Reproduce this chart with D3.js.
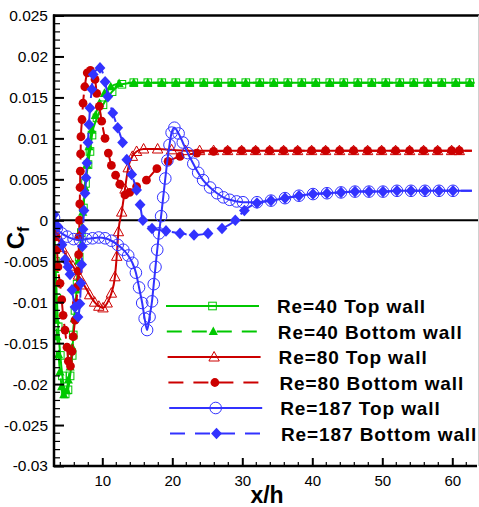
<!DOCTYPE html>
<html><head><meta charset="utf-8">
<script src="https://cdn.jsdelivr.net/npm/d3@7"></script>
<style>body{margin:0;background:#fff}svg{display:block}</style>
</head><body><svg id="c" width="479" height="507"></svg>
<script>
const xTickValues=[10,20,30,40,50,60];
const yTickValues=[0.025,0.02,0.015,0.01,0.005,0,-0.005,-0.01,-0.015,-0.02,-0.025,-0.03];
const yTickLabels=["0.025","0.02","0.015","0.01","0.005","0","-0.005","-0.01","-0.015","-0.02","-0.025","-0.03"];
const legendLabels=["Re=40 Top wall","Re=40 Bottom wall","Re=80 Top wall","Re=80 Bottom wall","Re=187 Top wall","Re=187 Bottom wall"];

const re40Top=[[3.1,-0.0005],[3.3,-0.005],[3.5,-0.0095],[3.7,-0.013],[4.0,-0.0165],[4.3,-0.019],[4.7,-0.0212],[5.1,-0.0207],[5.4,-0.019],[5.7,-0.0165],[5.85,-0.014],[6.1,-0.011],[6.4,-0.0078],[6.7,-0.0045],[7.0,-0.0015],[7.3,0.0015],[7.6,0.0045],[7.96,0.0068],[8.24,0.0084],[8.53,0.0104],[9.24,0.0125],[10.1,0.0141],[11.4,0.0157],[12.8,0.0166],[14.5,0.0168],[16.5,0.0168],[18.5,0.0168],[20.5,0.0168],[22.5,0.0168],[24.5,0.0168],[26.5,0.0168],[28.5,0.0168],[30.5,0.0168],[32.5,0.0168],[34.5,0.0168],[36.5,0.0168],[38.5,0.0168],[40.5,0.0168],[42.5,0.0168],[44.5,0.0168],[46.5,0.0168],[48.5,0.0168],[50.5,0.0168],[52.5,0.0168],[54.5,0.0168],[56.5,0.0168],[58.5,0.0168],[60.5,0.0168],[62.5,0.0168],[63.2,0.0168]];
const re40Bottom=[[3.1,-0.001],[3.2,-0.006],[3.3,-0.0095],[3.4,-0.0122],[3.55,-0.0142],[3.75,-0.0164],[3.95,-0.0185],[4.2,-0.0203],[4.5,-0.0213],[4.9,-0.0208],[5.15,-0.0195],[5.4,-0.0179],[5.7,-0.0155],[6.0,-0.012],[6.3,-0.0085],[6.6,-0.005],[6.9,-0.002],[7.2,0.001],[7.5,0.004],[7.8,0.0068],[8.1,0.009],[8.5,0.011],[9.0,0.0128],[9.6,0.0143],[10.3,0.0155],[11.2,0.0163],[12.4,0.0167],[14.5,0.0168],[16.5,0.0168],[18.5,0.0168],[20.5,0.0168],[22.5,0.0168],[24.5,0.0168],[26.5,0.0168],[28.5,0.0168],[30.5,0.0168],[32.5,0.0168],[34.5,0.0168],[36.5,0.0168],[38.5,0.0168],[40.5,0.0168],[42.5,0.0168],[44.5,0.0168],[46.5,0.0168],[48.5,0.0168],[50.5,0.0168],[52.5,0.0168],[54.5,0.0168],[56.5,0.0168],[58.5,0.0168],[60.5,0.0168],[62.5,0.0168],[63.2,0.0168]];
const re80Top=[[3.1,-0.0005],[3.6,-0.002],[4.2,-0.0033],[5.0,-0.0045],[5.8,-0.0056],[6.6,-0.0067],[7.4,-0.0079],[8.2,-0.0091],[8.9,-0.01],[9.5,-0.0105],[10.1,-0.0107],[10.7,-0.0101],[11.3,-0.0089],[11.8,-0.0069],[12.06,-0.0044],[12.3,-0.0014],[12.77,0.001],[13.24,0.0038],[13.7,0.0064],[14.3,0.0078],[14.9,0.0084],[15.9,0.0087],[17.9,0.0087],[19.9,0.0086],[21.9,0.0085],[23.9,0.0085],[25.9,0.0085],[27.9,0.0085],[29.9,0.0085],[31.9,0.0085],[33.9,0.0085],[35.9,0.0085],[37.9,0.0085],[39.9,0.0085],[41.9,0.0085],[43.9,0.0085],[45.9,0.0085],[47.9,0.0085],[49.9,0.0085],[51.9,0.0085],[53.9,0.0085],[55.9,0.0085],[57.9,0.0085],[59.9,0.0085],[61.0,0.0085],[62.8,0.0085]];
const re80Bottom=[[3.1,-0.0005],[3.35,-0.002],[3.53,-0.0036],[3.67,-0.0057],[3.96,-0.0077],[4.2,-0.0097],[4.4,-0.0116],[4.67,-0.0134],[4.96,-0.0155],[5.15,-0.0172],[5.45,-0.0178],[5.67,-0.016],[5.85,-0.0142],[6.1,-0.0122],[6.3,-0.0101],[6.45,-0.0081],[6.55,-0.0062],[6.62,-0.0042],[6.68,-0.002],[6.74,0.0],[6.78,0.002],[6.82,0.004],[6.86,0.006],[6.9,0.0081],[6.95,0.0102],[7.1,0.0123],[7.25,0.0143],[7.5,0.0163],[7.85,0.018],[8.3,0.0183],[8.96,0.0172],[9.2,0.0155],[9.57,0.0139],[9.91,0.0121],[10.39,0.01],[10.86,0.0082],[11.3,0.0067],[11.9,0.0055],[12.5,0.0044],[13.24,0.0031],[13.9,0.0034],[14.9,0.0041],[16.3,0.0049],[17.8,0.0063],[19.4,0.0072],[21.1,0.0078],[23.5,0.0082],[25.9,0.0084],[27.9,0.0085],[29.9,0.0085],[31.9,0.0085],[33.9,0.0085],[35.9,0.0085],[37.9,0.0085],[39.9,0.0085],[41.9,0.0085],[43.9,0.0085],[45.9,0.0085],[47.9,0.0085],[49.9,0.0085],[51.9,0.0085],[53.9,0.0085],[55.9,0.0085],[57.9,0.0085],[59.9,0.0085],[61.0,0.0085],[62.8,0.0085]];
const re187Top=[[3.1,0.0003],[3.5,-0.001],[4.2,-0.0016],[5.0,-0.002],[5.9,-0.0023],[6.8,-0.0024],[7.7,-0.0023],[8.6,-0.0022],[9.5,-0.0021],[10.4,-0.0022],[11.3,-0.0025],[12.2,-0.003],[13.0,-0.0036],[13.7,-0.0043],[14.3,-0.0052],[14.8,-0.0064],[15.25,-0.0082],[15.7,-0.0101],[16.05,-0.012],[16.4,-0.0134],[16.75,-0.0118],[17.1,-0.0099],[17.35,-0.0078],[17.6,-0.0057],[17.85,-0.0036],[18.1,-0.0016],[18.4,0.0005],[18.7,0.0028],[19.0,0.0051],[19.3,0.0073],[19.6,0.0092],[19.9,0.0107],[20.3,0.0113],[20.9,0.0106],[21.5,0.0095],[22.2,0.0082],[23.0,0.0069],[23.7,0.0058],[24.4,0.0049],[25.4,0.004],[26.4,0.0033],[27.3,0.0028],[28.2,0.0025],[29.2,0.0023],[30.1,0.0022],[32.1,0.0022],[34.1,0.0024],[36.1,0.0027],[38.1,0.003],[40.1,0.0032],[42.1,0.0033],[44.1,0.0034],[46.1,0.0035],[48.1,0.0035],[50.1,0.0035],[52.1,0.0036],[54.1,0.0036],[56.1,0.0036],[58.1,0.0036],[60.1,0.0036],[62.8,0.0036]];
const re187Bottom=[[3.1,0.0007],[3.65,-0.0008],[4.24,-0.003],[4.67,-0.0048],[5.1,-0.0057],[5.39,-0.0066],[5.67,-0.0085],[6.1,-0.0106],[6.53,-0.0118],[6.8,-0.0102],[6.95,-0.0077],[7.05,-0.0054],[7.15,-0.0032],[7.25,-0.0011],[7.38,0.0012],[7.53,0.0033],[7.67,0.0052],[7.81,0.007],[7.96,0.0095],[8.1,0.0117],[8.24,0.0137],[8.5,0.016],[8.7,0.0178],[9.67,0.0186],[10.4,0.0169],[10.8,0.0151],[11.5,0.0131],[12.2,0.0113],[12.9,0.0095],[13.5,0.0074],[14.2,0.0056],[14.9,0.0037],[15.4,0.0019],[15.8,0.0],[17.1,-0.001],[19.1,-0.0013],[21.1,-0.0016],[23.1,-0.0018],[25.1,-0.0016],[27.1,-0.001],[29.0,0.0],[30.3,0.0012],[32.1,0.0021],[34.1,0.0024],[36.1,0.0027],[38.1,0.003],[40.1,0.0032],[42.1,0.0033],[44.1,0.0034],[46.1,0.0035],[48.1,0.0035],[50.1,0.0035],[52.1,0.0036],[54.1,0.0036],[56.1,0.0036],[58.1,0.0036],[60.1,0.0036],[62.8,0.0036]];

const GREEN="#00c800",RED="#cc0000",BLUE="#3232ff";
const series=[
 {name:legendLabels[0],data:re40Top,color:GREEN,dash:null,marker:"square"},
 {name:legendLabels[1],data:re40Bottom,color:GREEN,dash:"15,10",marker:"triFill"},
 {name:legendLabels[2],data:re80Top,color:RED,dash:null,marker:"triOpen"},
 {name:legendLabels[3],data:re80Bottom,color:RED,dash:"15,10",marker:"circFill"},
 {name:legendLabels[4],data:re187Top,color:BLUE,dash:null,marker:"circOpen"},
 {name:legendLabels[5],data:re187Bottom,color:BLUE,dash:"15,10",marker:"diamond"}
];

const svg=d3.select("#c");
const L=54,R=477,T=15.5,B=466;
const x=d3.scaleLinear().domain([3.1,63.53]).range([L,R]);
const y=d3.scaleLinear().domain([-0.03,0.025]).range([B,T]);
const FONT="'Liberation Sans', Arial, Helvetica, sans-serif";

svg.append("defs").append("clipPath").attr("id","clip").append("rect")
  .attr("x",L).attr("y",T).attr("width",R-L).attr("height",B-T);

svg.append("line").attr("x1",L).attr("x2",R+1).attr("y1",y(0)).attr("y2",y(0))
  .attr("stroke","#000").attr("stroke-width",2);

function drawMarker(g,type,color,px,py){
  if(type==="square"){
    g.append("rect").attr("x",px-3.8).attr("y",py-3.8).attr("width",7.6).attr("height",7.6)
      .attr("fill","none").attr("stroke",color).attr("stroke-width",1);
  } else if(type==="triFill"){
    g.append("path").attr("d",`M${px},${py-5}L${px+4.6},${py+3.6}L${px-4.6},${py+3.6}Z`).attr("fill",color);
  } else if(type==="triOpen"){
    g.append("path").attr("d",`M${px},${py-5.5}L${px+5.2},${py+4}L${px-5.2},${py+4}Z`)
      .attr("fill","none").attr("stroke",color).attr("stroke-width",1);
  } else if(type==="circFill"){
    g.append("circle").attr("cx",px).attr("cy",py).attr("r",4.4).attr("fill",color);
  } else if(type==="circOpen"){
    g.append("circle").attr("cx",px).attr("cy",py).attr("r",5.8)
      .attr("fill","none").attr("stroke",color).attr("stroke-width",1);
  } else if(type==="diamond"){
    g.append("path").attr("d",`M${px},${py-5.8}L${px+5.4},${py}L${px},${py+5.8}L${px-5.4},${py}Z`).attr("fill",color);
  }
}

const line=d3.line().x(d=>x(d[0])).y(d=>y(d[1])).curve(d3.curveMonotoneX);
const plot=svg.append("g").attr("clip-path","url(#clip)");
series.forEach(s=>{
  const g=plot.append("g");
  g.append("path").attr("d",line(s.data)).attr("fill","none").attr("stroke",s.color)
    .attr("stroke-width",2).attr("stroke-dasharray",s.dash);
  s.data.slice(0,-1).forEach(d=>drawMarker(g,s.marker,s.color,x(d[0]),y(d[1])));
});

const ax=svg.append("g");
ax.append("line").attr("x1",L-1).attr("x2",479).attr("y1",T).attr("y2",T).attr("stroke","#000").attr("stroke-width",2.5);
ax.append("line").attr("x1",478.5).attr("x2",478.5).attr("y1",T).attr("y2",B).attr("stroke","#d0d0d0").attr("stroke-width",1);
ax.append("line").attr("x1",L).attr("x2",L).attr("y1",T-1).attr("y2",B+1).attr("stroke","#000").attr("stroke-width",2.5);
ax.append("line").attr("x1",L-1).attr("x2",R).attr("y1",B).attr("y2",B).attr("stroke","#000").attr("stroke-width",2.5);

const yAxis=d3.axisLeft(y).tickValues(yTickValues).tickSize(-10).tickPadding(6)
  .tickFormat((d,i)=>yTickLabels[i]);
const gy=svg.append("g").attr("transform",`translate(${L},0)`).call(yAxis);
gy.select(".domain").remove();
gy.selectAll(".tick line").attr("stroke","#000").attr("stroke-width",2);
gy.selectAll(".tick text").attr("font-family",FONT).attr("font-size",15.5).attr("fill","#000");
const yMinor=d3.range(-30,26,1).map(v=>v/1000).filter(v=>Math.round(v*1000)%5!==0);
svg.append("g").selectAll("line").data(yMinor).join("line")
  .attr("x1",L).attr("x2",L+6).attr("y1",d=>y(d)).attr("y2",d=>y(d)).attr("stroke","#000").attr("stroke-width",1.2);

const xAxis=d3.axisBottom(x).tickValues(xTickValues).tickSize(-8).tickPadding(9).tickFormat(d3.format("d"));
const gx=svg.append("g").attr("transform",`translate(0,${B})`).call(xAxis);
gx.select(".domain").remove();
gx.selectAll(".tick line").attr("stroke","#000").attr("stroke-width",2);
gx.selectAll(".tick text").attr("font-family",FONT).attr("font-size",15).attr("fill","#000");
const xMinor=d3.range(4,64,2).filter(v=>v%10!==0);
svg.append("g").selectAll("line").data(xMinor).join("line")
  .attr("x1",d=>x(d)).attr("x2",d=>x(d)).attr("y1",B).attr("y2",B-4).attr("stroke","#000").attr("stroke-width",1.2);

svg.append("text").attr("x",267).attr("y",503).attr("text-anchor","middle")
  .attr("font-family",FONT).attr("font-weight","bold").attr("font-size",23).text("x/h");
const ct=svg.append("text").attr("transform","translate(24,238) rotate(-90)").attr("text-anchor","middle")
  .attr("font-family",FONT).attr("font-weight","bold").attr("font-size",24);
ct.append("tspan").text("C");
ct.append("tspan").attr("font-size",16).attr("dy",5).text("f");

const leg=svg.append("g");
series.forEach((s,i)=>{
  const yy=306+i*25.5, x0=166+i*0.8, x1=259+i*0.8, xm=(x0+x1)/2;
  leg.append("line").attr("x1",x0).attr("x2",x1).attr("y1",yy).attr("y2",yy)
    .attr("stroke",s.color).attr("stroke-width",2).attr("stroke-dasharray",s.dash);
  drawMarker(leg,s.marker,s.color,xm,yy);
  leg.append("text").attr("x",277+i*0.8).attr("y",yy+7).attr("font-family",FONT)
    .attr("font-weight","bold").attr("font-size",19).attr("letter-spacing","0.9px").attr("fill","#000").text(s.name);
});
</script></body></html>
